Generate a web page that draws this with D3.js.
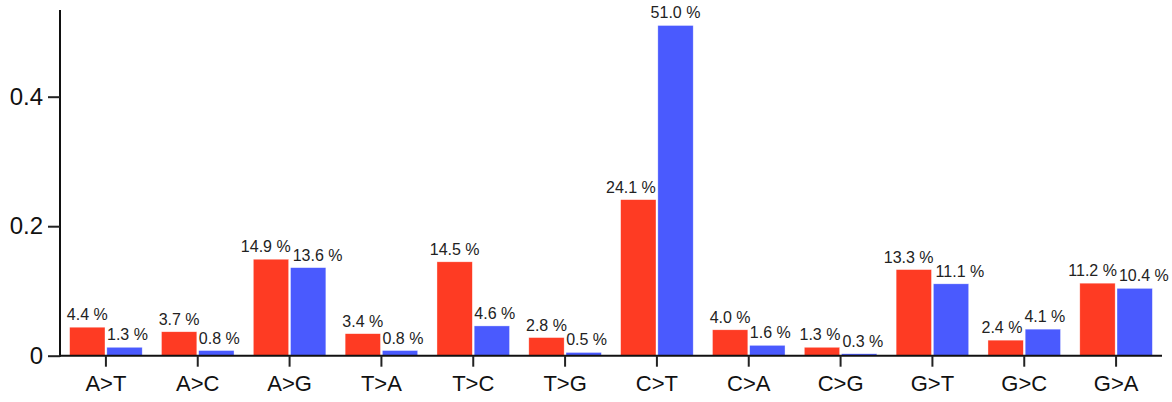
<!DOCTYPE html>
<html>
<head>
<meta charset="utf-8">
<script src="https://cdn.jsdelivr.net/npm/d3@7"></script>
<style>
  body { margin: 0; background: #fff; }
  svg { display: block; font-family: "Liberation Sans", Arial, sans-serif; }
</style>
</head>
<body>
<svg width="1172" height="402"></svg>
<script>
// mutation classes along the x axis
const categories = ["A>T", "A>C", "A>G", "T>A", "T>C", "T>G", "C>T", "C>A", "C>G", "G>T", "G>C", "G>A"];
// fractions for the two groups (red, blue)
const redValues  = [0.044, 0.037, 0.149, 0.034, 0.145, 0.028, 0.241, 0.040, 0.013, 0.133, 0.024, 0.112];
const blueValues = [0.013, 0.008, 0.136, 0.008, 0.046, 0.005, 0.510, 0.016, 0.003, 0.111, 0.041, 0.104];
const yTicks = [0, 0.2, 0.4];
const series = ["red", "blue"];

const colors = {red: "#fe3b23", blue: "#4a5afe"};

let svg = d3.select("svg");
let mLeft = 60, mRight = 1162, mTop = 10, mBottom = 355.7;

let x = d3.scaleBand()
    .domain(categories)
    .range([mLeft, mRight])
    .paddingInner(0.21)
    .paddingOuter(0.105);

let xSub = d3.scaleBand()
    .domain(series)
    .range([0, x.bandwidth()])
    .paddingInner(0.05);

let y = d3.scaleLinear()
    .domain([0, (mBottom - mTop) / 647.5])
    .range([mBottom, mTop]);

let rows = categories.map((c, i) => ({cat: c, red: redValues[i], blue: blueValues[i]}));
let bars = [];
rows.forEach(r => series.forEach(s => bars.push({cat: r.cat, key: s, value: r[s]})));

// bars
svg.append("g")
    .attr("class", "bars")
    .selectAll("rect")
    .data(bars)
    .enter().append("rect")
    .attr("x", d => x(d.cat) + xSub(d.key))
    .attr("y", d => y(d.value))
    .attr("width", xSub.bandwidth())
    .attr("height", d => y(0) - y(d.value))
    .attr("fill", d => colors[d.key])
    .attr("stroke", "rgba(255,255,255,0.6)")
    .attr("stroke-width", 0.6);

// axes
let xAxis = svg.append("g")
    .attr("transform", `translate(0,${mBottom})`)
    .call(d3.axisBottom(x).tickSize(11).tickSizeOuter(0).tickPadding(9));
xAxis.select(".domain").attr("stroke", "#111").attr("stroke-width", 2)
    .attr("d", `M${mLeft - 1},0H${mRight}`);
xAxis.selectAll(".tick line").attr("stroke", "#222").attr("stroke-width", 2);
xAxis.selectAll(".tick text").attr("font-size", 22).attr("fill", "#111")
    .attr("font-family", "'Liberation Sans', Arial, sans-serif");

let yAxis = svg.append("g")
    .attr("transform", `translate(${mLeft},0)`)
    .call(d3.axisLeft(y).tickValues(yTicks).tickFormat(d => d === 0 ? "0" : d3.format(".1f")(d))
        .tickSize(12).tickSizeOuter(0).tickPadding(5));
yAxis.select(".domain").attr("stroke", "#111").attr("stroke-width", 2)
    .attr("d", `M0,${mTop}V${mBottom + 1}`);
yAxis.selectAll(".tick line").attr("stroke", "#222").attr("stroke-width", 2);
yAxis.selectAll(".tick text").attr("font-size", 24).attr("fill", "#111")
    .attr("font-family", "'Liberation Sans', Arial, sans-serif");

// value labels, nudged sideways so they don't sit on neighbours
let fs = 16;
let labelG = svg.append("g").attr("class", "labels");
let labels = bars.map(d => {
    let cx = x(d.cat) + xSub(d.key) + xSub.bandwidth() / 2;
    let base = y(d.value) - 7;
    let t = labelG.append("text")
        .attr("font-size", fs)
        .attr("fill", "#222")
        .attr("text-anchor", "middle")
        .attr("y", base)
        .text(d3.format(".1f")(d.value * 100) + " %");
    let w = t.node().getComputedTextLength();
    return {d: d, el: t, cx: cx, w: w, y0: base - 0.74 * fs, y1: base + 0.05 * fs};
});

let barBoxes = bars.map(d => ({
    d: d,
    x0: x(d.cat) + xSub(d.key),
    x1: x(d.cat) + xSub(d.key) + xSub.bandwidth(),
    y0: y(d.value),
    y1: y(0)
}));

let pad = 2;
for (let it = 0; it < 80; it++) {
    labels.forEach(L => {
        let lx0 = L.cx - L.w / 2, lx1 = L.cx + L.w / 2;
        barBoxes.forEach(B => {
            if (B.d === L.d) return;
            if (L.y1 + pad < B.y0 || L.y0 - pad > B.y1) return;
            if (lx1 + pad <= B.x0 || lx0 - pad >= B.x1) return;
            if (L.cx < (B.x0 + B.x1) / 2) L.cx -= (lx1 + pad - B.x0) * 0.5;
            else L.cx += (B.x1 + pad - lx0) * 0.5;
        });
    });
    for (let i = 0; i < labels.length; i++) {
        for (let j = i + 1; j < labels.length; j++) {
            let A = labels[i], B = labels[j];
            if (A.y1 + pad < B.y0 || A.y0 - pad > B.y1) continue;
            let a0 = A.cx - A.w / 2, a1 = A.cx + A.w / 2;
            let b0 = B.cx - B.w / 2, b1 = B.cx + B.w / 2;
            if (a1 + pad <= b0 || b1 + pad <= a0) continue;
            let ov = A.cx < B.cx ? (a1 + pad - b0) : (b1 + pad - a0);
            let dir = A.cx < B.cx ? -1 : 1;
            A.cx += dir * ov * 0.25;
            B.cx -= dir * ov * 0.25;
        }
    }
}
labels.forEach(L => L.el.attr("x", L.cx));
</script>
</body>
</html>
